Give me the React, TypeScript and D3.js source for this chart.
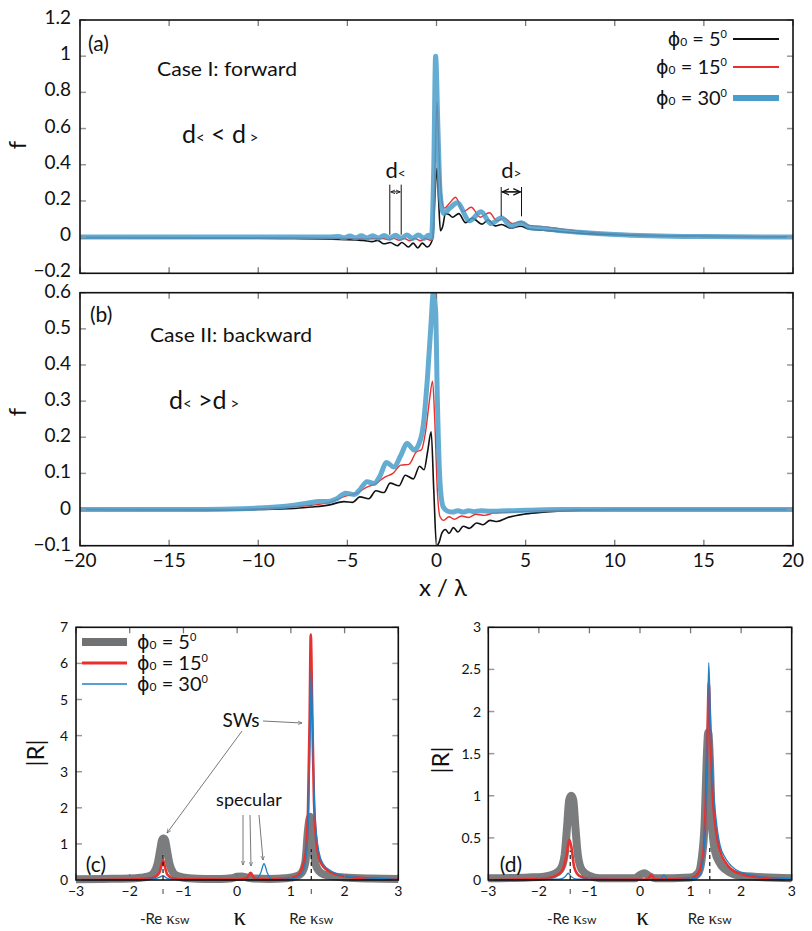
import React from "react";
import * as d3 from "d3";

type Pt = [number, number];

// (a) Case I: forward — f against x/λ
const aPhi5: Pt[] = [
  [-20, -0.003], [-15, -0.004], [-10, -0.006], [-8, -0.008], [-6, -0.011], [-5, -0.014],
  [-4.5, -0.016], [-4.1, -0.018], [-3.6, -0.025], [-3.3, -0.018], [-2.95, -0.037], [-2.6, -0.03],
  [-2.2, -0.048], [-1.94, -0.03], [-1.57, -0.055], [-1.31, -0.033], [-1.05, -0.06], [-0.8, -0.033],
  [-0.52, -0.055], [-0.35, -0.04], [-0.2, 0.0], [-0.1, 0.2], [0.02, 0.38], [0.12, 0.2], [0.22, 0.035],
  [0.35, 0.06], [0.5, 0.13], [0.7, 0.125], [0.9, 0.11], [1.25, 0.13], [1.63, 0.08], [2.0, 0.105],
  [2.56, 0.072], [2.9, 0.095], [3.3, 0.062], [3.65, 0.07], [4.15, 0.05], [4.7, 0.06], [5.2, 0.045],
  [6, 0.038], [7, 0.03], [8, 0.022], [10, 0.013], [12, 0.008], [15, 0.004], [20, 0.001],
];
const aPhi15: Pt[] = [
  [-20, -0.002], [-10, -0.004], [-6, -0.006], [-4, -0.01], [-3, -0.008], [-2.7, -0.014], [-2.4, -0.007],
  [-2.1, -0.017], [-1.8, -0.008], [-1.5, -0.02], [-1.2, -0.008], [-0.9, -0.02], [-0.6, -0.008],
  [-0.35, -0.018], [-0.2, 0.0], [-0.08, 0.4], [0.03, 0.75], [0.15, 0.45], [0.3, 0.2], [0.45, 0.16],
  [0.75, 0.19], [1.07, 0.22], [1.5, 0.14], [1.95, 0.165], [2.45, 0.11], [2.97, 0.135], [3.4, 0.09],
  [3.8, 0.105], [4.25, 0.075], [4.72, 0.085], [5.2, 0.065], [6, 0.058], [7, 0.045], [8, 0.033],
  [10, 0.018], [12, 0.01], [15, 0.005], [20, 0.001],
];
const aPhi30: Pt[] = [
  [-20, 0], [-12, 0], [-8, 0.001], [-6, 0], [-5.5, 0.004], [-5.2, -0.004], [-4.86, 0.006],
  [-4.54, -0.004], [-4.22, 0.007], [-3.9, -0.005], [-3.58, 0.008], [-3.26, -0.005], [-2.94, 0.009],
  [-2.62, -0.006], [-2.3, 0.01], [-1.98, -0.006], [-1.66, 0.011], [-1.34, -0.007], [-1.02, 0.012],
  [-0.7, -0.007], [-0.45, 0.01], [-0.28, -0.005], [-0.15, 0.4], [-0.05, 1.0], [0.08, 0.6],
  [0.2, 0.25], [0.4, 0.13], [0.75, 0.16], [1.16, 0.19], [1.85, 0.09], [2.5, 0.14], [3.05, 0.075],
  [3.65, 0.105], [4.2, 0.06], [4.75, 0.08], [5.3, 0.05], [6, 0.048], [7, 0.035], [8, 0.027],
  [10, 0.015], [12, 0.008], [15, 0.003], [20, 0],
];

// (b) Case II: backward
const bPhi5: Pt[] = [
  [-20, 0], [-12, -0.001], [-10, 0], [-8, 0.003], [-7, 0.007], [-6, 0.013], [-5.2, 0.022],
  [-4.7, 0.02], [-4.3, 0.035], [-3.8, 0.03], [-3.4, 0.052], [-2.95, 0.047], [-2.6, 0.073],
  [-2.1, 0.066], [-1.75, 0.095], [-1.3, 0.085], [-0.95, 0.12], [-0.7, 0.11], [-0.5, 0.16],
  [-0.3, 0.215], [-0.15, 0.05], [0.0, -0.1], [0.15, -0.09], [0.3, -0.065], [0.5, -0.055],
  [0.7, -0.066], [0.95, -0.05], [1.2, -0.062], [1.5, -0.046], [1.85, -0.052], [2.25, -0.037],
  [2.6, -0.042], [3.0, -0.03], [3.4, -0.033], [4, -0.022], [5, -0.012], [6, -0.007], [8, -0.002],
  [10, 0], [20, 0],
];
const bPhi15: Pt[] = [
  [-20, 0], [-12, 0], [-10, 0.002], [-8, 0.008], [-7, 0.012], [-6, 0.02], [-5.1, 0.037],
  [-4.5, 0.045], [-3.9, 0.062], [-3.4, 0.072], [-2.9, 0.09], [-2.45, 0.1], [-2.0, 0.123],
  [-1.55, 0.125], [-1.12, 0.16], [-0.85, 0.165], [-0.6, 0.22], [-0.4, 0.3], [-0.22, 0.355],
  [-0.1, 0.25], [0.05, 0.05], [0.2, -0.02], [0.4, -0.03], [0.7, -0.02], [1.0, -0.027],
  [1.4, -0.018], [1.8, -0.022], [2.2, -0.013], [2.7, -0.016], [3.2, -0.01], [4, -0.008],
  [5, -0.005], [7, -0.002], [10, 0], [20, 0],
];
const bPhi30: Pt[] = [
  [-20, 0], [-14, 0], [-12, 0.001], [-10, 0.004], [-9, 0.007], [-8, 0.012], [-7.2, 0.018],
  [-6.6, 0.022], [-6.1, 0.022], [-5.6, 0.03], [-5.1, 0.045], [-4.6, 0.042], [-4.3, 0.055],
  [-3.9, 0.077], [-3.5, 0.072], [-3.2, 0.09], [-2.8, 0.13], [-2.4, 0.118], [-2.0, 0.15],
  [-1.65, 0.183], [-1.25, 0.165], [-1.0, 0.18], [-0.75, 0.23], [-0.5, 0.37], [-0.3, 0.52],
  [-0.18, 0.6], [-0.05, 0.55], [0.05, 0.3], [0.19, 0.08], [0.37, 0.008], [0.6, -0.004],
  [0.9, -0.007], [1.2, -0.003], [1.5, -0.007], [1.8, -0.003], [2.1, -0.006], [2.5, -0.003],
  [3, -0.005], [4, -0.003], [5, -0.002], [7, 0], [20, 0],
];

// (c) |R| against κ
const cPhi5: Pt[] = [
  [-3, 0.02], [-2.5, 0.03], [-2, 0.04], [-1.8, 0.06], [-1.65, 0.1], [-1.55, 0.2], [-1.48, 0.45],
  [-1.43, 0.85], [-1.4, 1.1], [-1.37, 1.15], [-1.34, 1.1], [-1.31, 0.85], [-1.26, 0.45],
  [-1.19, 0.2], [-1.09, 0.1], [-0.9, 0.05], [-0.6, 0.03], [-0.3, 0.03], [-0.1, 0.05], [0.0, 0.09],
  [0.087, 0.1], [0.18, 0.07], [0.3, 0.04], [0.6, 0.03], [0.9, 0.05], [1.1, 0.1], [1.2, 0.2],
  [1.27, 0.5], [1.32, 1.4], [1.36, 1.75], [1.4, 1.4], [1.45, 0.5], [1.52, 0.25], [1.62, 0.15],
  [1.8, 0.1], [2, 0.07], [2.5, 0.04], [3, 0.03],
];
const cPhi15: Pt[] = [
  [-3, 0.0], [-2, 0.01], [-1.7, 0.03], [-1.55, 0.07], [-1.45, 0.2], [-1.4, 0.45], [-1.38, 0.55],
  [-1.35, 0.4], [-1.3, 0.15], [-1.2, 0.05], [-1.0, 0.02], [0, 0.01], [0.18, 0.05], [0.25, 0.2],
  [0.32, 0.05], [0.5, 0.01], [0.9, 0.03], [1.1, 0.1], [1.2, 0.3], [1.28, 0.8], [1.32, 2.0],
  [1.35, 4.5], [1.37, 6.8], [1.4, 4.5], [1.43, 2.2], [1.48, 1.0], [1.55, 0.5], [1.7, 0.25],
  [2, 0.1], [2.5, 0.04], [3, 0.02],
];
const cPhi30: Pt[] = [
  [-3, 0], [-1.8, 0.01], [-1.55, 0.03], [-1.45, 0.07], [-1.38, 0.12], [-1.32, 0.06], [-1.2, 0.02],
  [-1, 0.01], [0.35, 0.01], [0.44, 0.2], [0.5, 0.45], [0.56, 0.2], [0.65, 0.01], [1.0, 0.03],
  [1.2, 0.15], [1.28, 0.6], [1.33, 1.8], [1.36, 4], [1.38, 5.9], [1.41, 3.8], [1.45, 1.8],
  [1.52, 0.8], [1.6, 0.45], [1.75, 0.25], [2, 0.12], [2.5, 0.05], [3, 0.02],
];

// (d) |R| against κ
const dPhi5: Pt[] = [
  [-3, 0.02], [-2.2, 0.03], [-1.9, 0.04], [-1.7, 0.07], [-1.57, 0.13], [-1.49, 0.3], [-1.44, 0.65],
  [-1.4, 0.95], [-1.36, 1.0], [-1.32, 0.95], [-1.28, 0.65], [-1.23, 0.3], [-1.15, 0.12], [-1.0, 0.05],
  [-0.8, 0.02], [-0.1, 0.02], [0.0, 0.06], [0.087, 0.08], [0.17, 0.05], [0.3, 0.02], [1.0, 0.03],
  [1.15, 0.08], [1.22, 0.25], [1.28, 0.7], [1.32, 1.45], [1.35, 1.75], [1.38, 1.45], [1.42, 0.7],
  [1.48, 0.35], [1.58, 0.2], [1.75, 0.1], [2, 0.05], [3, 0.02],
];
const dPhi15: Pt[] = [
  [-3, 0], [-2, 0.01], [-1.7, 0.04], [-1.55, 0.1], [-1.45, 0.3], [-1.4, 0.48], [-1.36, 0.4],
  [-1.3, 0.15], [-1.2, 0.05], [-1, 0.015], [0.15, 0.005], [0.22, 0.06], [0.3, 0.005], [1.0, 0.02],
  [1.15, 0.08], [1.25, 0.3], [1.3, 0.9], [1.34, 1.9], [1.36, 2.35], [1.39, 1.8], [1.43, 1.1],
  [1.5, 0.6], [1.58, 0.35], [1.7, 0.2], [1.8, 0.13], [2, 0.07], [2.3, 0.035], [2.6, 0.02], [3, 0.01],
];
const dPhi30: Pt[] = [
  [-3, 0], [-1.6, 0.01], [-1.48, 0.04], [-1.42, 0.08], [-1.36, 0.04], [-1.25, 0.01], [0.4, 0.005],
  [0.47, 0.06], [0.55, 0.005], [1.1, 0.02], [1.2, 0.08], [1.26, 0.3], [1.31, 1.0], [1.34, 2.0],
  [1.36, 2.58], [1.39, 2.0], [1.43, 1.3], [1.5, 0.75], [1.58, 0.42], [1.7, 0.25], [1.8, 0.17],
  [2, 0.09], [2.2, 0.06], [2.5, 0.03], [3, 0.015],
];

const angles = ["5", "15", "30"];
const topXTicks = [-20, -15, -10, -5, 0, 5, 10, 15, 20];
const aYTicks = [-0.2, 0, 0.2, 0.4, 0.6, 0.8, 1, 1.2];
const bYTicks = [-0.1, 0, 0.1, 0.2, 0.3, 0.4, 0.5, 0.6];
const kTicks = [-3, -2, -1, 0, 1, 2, 3];
const cYTicks = [0, 1, 2, 3, 4, 5, 6, 7];
const dYTicks = [0, 0.5, 1, 1.5, 2, 2.5, 3];
const reKsw = 1.38;

const FONT = "Lato, 'Open Sans', sans-serif";
const BLACK = "#111";
const RED = "#e8302c";
const BLUE_TOP = "#4a9ecb";
const BLUE_LOW = "#1f80c4";
const GRAY = "#707173";

const fmt = (v: number) => String(+v.toFixed(2)).replace("-", "\u2212");

const topX = d3.scaleLinear().domain([-20, 20]).range([80, 793]);
const aY = d3.scaleLinear().domain([-0.2, 1.2]).range([273.3, 20]);
const bY = d3.scaleLinear().domain([-0.1, 0.6]).range([545.7, 292.7]);
const cX = d3.scaleLinear().domain([-3, 3]).range([76, 398.3]);
const cY = d3.scaleLinear().domain([0, 7]).range([880, 627.3]);
const dX = d3.scaleLinear().domain([-3, 3]).range([488.3, 791.7]);
const dY = d3.scaleLinear().domain([0, 3]).range([880, 627.3]);

type Sc = d3.ScaleLinear<number, number>;

const pathOf = (x: Sc, y: Sc, data: Pt[]) =>
  d3.line<Pt>().x(d => x(d[0])).y(d => y(d[1])).curve(d3.curveMonotoneX)(data) || "";

const Frame = ({ x, y, xt, yt, len, xLabels, yLabelX, fs, dyLab }:
  { x: Sc; y: Sc; xt: number[]; yt: number[]; len: number; xLabels: boolean; yLabelX: number; fs: number; dyLab: number }) => {
  const [x0, x1] = x.range();
  const [y0, y1] = y.range();
  return (
    <g>
      {yt.map(v => (
        <g key={"y" + v}>
          <line x1={x0} x2={x0 + len} y1={y(v)} y2={y(v)} stroke="#999" strokeWidth={1.5} />
          <line x1={x1} x2={x1 - len} y1={y(v)} y2={y(v)} stroke="#999" strokeWidth={1.5} />
          <text x={yLabelX} y={y(v) + dyLab} textAnchor="end" fontSize={fs} fontFamily={FONT} fill="#111">{fmt(v)}</text>
        </g>
      ))}
      {xt.map(v => (
        <g key={"x" + v}>
          <line x1={x(v)} x2={x(v)} y1={y0} y2={y0 - len} stroke="#777" strokeWidth={1.3} />
          <line x1={x(v)} x2={x(v)} y1={y1} y2={y1 + len} stroke="#777" strokeWidth={1.3} />
          {xLabels && (
            <text x={x(v)} y={y0 + fs + 2} textAnchor="middle" fontSize={fs} fontFamily={FONT} fill="#111">{fmt(v)}</text>
          )}
        </g>
      ))}
      <rect x={x0} y={y1} width={x1 - x0} height={y0 - y1} fill="none" stroke="#111" strokeWidth={1.6} />
    </g>
  );
};

const PhiText = ({ x, y, deg, fs, anchor }: { x: number; y: number; deg: string; fs: number; anchor: "start" | "end" }) => (
  <text x={x} y={y} textAnchor={anchor} fontSize={fs} fontFamily={FONT} fill="#111">
    <tspan fontFamily="'DejaVu Sans', sans-serif" fontSize={fs * 0.95}>ϕ</tspan>
    <tspan fontSize={fs * 0.6}>0</tspan>
    <tspan>{" = " + deg}</tspan>
    <tspan fontSize={fs * 0.55} dy={-fs * 0.4}>0</tspan>
  </text>
);

const DLabel = ({ x, y, sub, fs }: { x: number; y: number; sub: string; fs: number }) => (
  <text x={x} y={y} textAnchor="middle" fontSize={fs} fontFamily={FONT} fill="#111">
    d<tspan fontSize={fs * 0.62}>{sub}</tspan>
  </text>
);

const Ksw = ({ x, y, neg }: { x: number; y: number; neg: boolean }) => (
  <text x={x} y={y} textAnchor="middle" fontSize={15} fontFamily={FONT} fill="#222">
    {neg ? "-Re " : "Re "}
    <tspan fontFamily="'Liberation Serif', serif" fontSize={17}>κ</tspan>
    <tspan fontSize={12}>sw</tspan>
  </text>
);

export default function App() {
  const topSeries = (y: Sc, s: Pt[][]) => (
    <>
      <path d={pathOf(topX, y, s[0])} fill="none" stroke={BLACK} strokeWidth={1.6} strokeLinejoin="round" />
      <path d={pathOf(topX, y, s[1])} fill="none" stroke={RED} strokeWidth={1.4} strokeLinejoin="round" />
      <path d={pathOf(topX, y, s[2])} fill="none" stroke={BLUE_TOP} strokeWidth={5} strokeOpacity={0.85} strokeLinejoin="round" />
    </>
  );
  const lowSeries = (x: Sc, y: Sc, s: Pt[][]) => (
    <>
      <path d={pathOf(x, y, s[0])} fill="none" stroke={GRAY} strokeWidth={8} strokeOpacity={0.92} strokeLinejoin="bevel" />
      <path d={pathOf(x, y, s[1])} fill="none" stroke={RED} strokeWidth={2.6} strokeLinejoin="round" />
      <path d={pathOf(x, y, s[2])} fill="none" stroke={BLUE_LOW} strokeWidth={1.3} strokeLinejoin="round" />
    </>
  );
  const kswMarks = (x: Sc, y: Sc, hl: number, hr: number) => (
    <>
      <line x1={x(-reKsw)} x2={x(-reKsw)} y1={y(0)} y2={y(hl)} stroke="#111" strokeWidth={1.2} strokeDasharray="4,3" />
      <line x1={x(reKsw)} x2={x(reKsw)} y1={y(0)} y2={y(hr)} stroke="#111" strokeWidth={1.2} strokeDasharray="4,3" />
      <line x1={x(-reKsw)} x2={x(-reKsw)} y1={889} y2={894} stroke="#444" strokeWidth={1} />
      <line x1={x(reKsw)} x2={x(reKsw)} y1={889} y2={894} stroke="#444" strokeWidth={1} />
    </>
  );
  const legendTop = [
    { c: BLACK, w: 2, yy: 39 },
    { c: RED, w: 2, yy: 67 },
    { c: BLUE_TOP, w: 6, yy: 98 },
  ];
  const legendLow = [
    { c: GRAY, w: 8, yy: 642 },
    { c: RED, w: 3, yy: 663 },
    { c: BLUE_LOW, w: 1.4, yy: 684 },
  ];

  return (
    <svg width={812} height={931} style={{ position: "absolute", left: 0, top: 0, background: "#fff" }}>
      <defs>
        <clipPath id="clipA"><rect x={80} y={20} width={713} height={253.3} /></clipPath>
        <clipPath id="clipB"><rect x={80} y={292.7} width={713} height={253} /></clipPath>
        <marker id="arr" viewBox="0 0 10 10" refX={9} refY={5} markerWidth={5} markerHeight={5} orient="auto-start-reverse">
          <path d="M0,1 L9,5 L0,9" fill="none" stroke="#111" strokeWidth={1.6} />
        </marker>
        <marker id="arrG" viewBox="0 0 10 10" refX={9} refY={5} markerWidth={6} markerHeight={6} orient="auto">
          <path d="M0,1 L9,5 L0,9" fill="none" stroke="#555" strokeWidth={1.2} />
        </marker>
      </defs>

      {/* (a) */}
      <g clipPath="url(#clipA)">{topSeries(aY, [aPhi5, aPhi15, aPhi30])}</g>
      <Frame x={topX} y={aY} xt={topXTicks} yt={aYTicks} len={6} xLabels={false} yLabelX={71} fs={19} dyLab={4} />
      <text x={88} y={51} fontSize={21} fontFamily={FONT} fill="#111">(a)</text>
      <text x={157} y={76} fontSize={19} fontFamily={FONT} fill="#111" textLength={140} lengthAdjust="spacingAndGlyphs">Case I: forward</text>
      <text x={182} y={143} fontSize={25} fontFamily={FONT} fill="#111">
        d<tspan fontSize={15}>{"<"}</tspan><tspan>{" < d"}</tspan><tspan fontSize={15}>{" >"}</tspan>
      </text>
      <text x={26} y={145} fontSize={24} fontFamily={FONT} fill="#111" textAnchor="middle" transform="rotate(-90 26 145)">f</text>
      {legendTop.map((l, i) => (
        <g key={i}>
          <PhiText x={727} y={l.yy + 7} deg={angles[i]} fs={20} anchor="end" />
          <line x1={733} x2={779} y1={l.yy} y2={l.yy} stroke={l.c} strokeWidth={l.w} />
        </g>
      ))}
      {/* d< and d> brackets */}
      <g stroke="#111" strokeWidth={1}>
        <line x1={topX(-2.62)} x2={topX(-2.62)} y1={aY(0.29)} y2={aY(0.013)} />
        <line x1={topX(-1.98)} x2={topX(-1.98)} y1={aY(0.29)} y2={aY(0.013)} />
        <line x1={topX(-2.62) + 1} x2={topX(-1.98) - 1} y1={aY(0.25)} y2={aY(0.25)} markerStart="url(#arr)" markerEnd="url(#arr)" />
        <line x1={topX(3.63)} x2={topX(3.63)} y1={aY(0.277)} y2={aY(0.115)} />
        <line x1={topX(4.77)} x2={topX(4.77)} y1={aY(0.277)} y2={aY(0.115)} />
        <line x1={topX(3.63) + 1} x2={topX(4.77) - 1} y1={aY(0.25)} y2={aY(0.25)} strokeWidth={1.6} markerStart="url(#arr)" markerEnd="url(#arr)" />
      </g>
      <DLabel x={topX(-2.3)} y={aY(0.364) + 7} sub="<" fs={22} />
      <DLabel x={topX(4.2)} y={aY(0.364) + 7} sub=">" fs={22} />

      {/* (b) */}
      <g clipPath="url(#clipB)">{topSeries(bY, [bPhi5, bPhi15, bPhi30])}</g>
      <Frame x={topX} y={bY} xt={topXTicks} yt={bYTicks} len={6} xLabels={true} yLabelX={71} fs={19} dyLab={5} />
      <text x={90} y={322} fontSize={21} fontFamily={FONT} fill="#111">(b)</text>
      <text x={150} y={342} fontSize={19} fontFamily={FONT} fill="#111" textLength={162} lengthAdjust="spacingAndGlyphs">Case II: backward</text>
      <text x={169} y={409} fontSize={25} fontFamily={FONT} fill="#111">
        d<tspan fontSize={15}>{"<"}</tspan><tspan>{" >d"}</tspan><tspan fontSize={15}>{" >"}</tspan>
      </text>
      <text x={26} y={412} fontSize={24} fontFamily={FONT} fill="#111" textAnchor="middle" transform="rotate(-90 26 412)">f</text>
      <text x={443} y={596} fontSize={24} fontFamily={FONT} fill="#111" textAnchor="middle">x / λ</text>

      {/* (c) */}
      {lowSeries(cX, cY, [cPhi5, cPhi15, cPhi30])}
      {kswMarks(cX, cY, 0.75, 0.85)}
      <Frame x={cX} y={cY} xt={kTicks} yt={cYTicks} len={6} xLabels={true} yLabelX={68} fs={14} dyLab={5} />
      <text x={38} y={753} fontSize={24} fontFamily={FONT} fill="#111" textAnchor="middle" dominantBaseline="middle" transform="rotate(-90 38 753)">|R|</text>
      {legendLow.map((l, i) => (
        <g key={i}>
          <line x1={82} x2={127} y1={l.yy} y2={l.yy} stroke={l.c} strokeWidth={l.w} />
          <PhiText x={137} y={l.yy + 7} deg={angles[i]} fs={20} anchor="start" />
        </g>
      ))}
      <text x={96} y={872} fontSize={21} fontFamily={FONT} fill="#111" textAnchor="middle">(c)</text>
      <text x={241} y={727} fontSize={19} fontFamily={FONT} fill="#111" textAnchor="middle">SWs</text>
      <g stroke="#555" strokeWidth={0.8} fill="none">
        <line x1={263} y1={721} x2={302} y2={723} markerEnd="url(#arrG)" />
        <line x1={242} y1={731} x2={167} y2={833} markerEnd="url(#arrG)" />
        <line x1={243} y1={815} x2={243} y2={865} markerEnd="url(#arrG)" />
        <line x1={250} y1={815} x2={251} y2={866} markerEnd="url(#arrG)" />
        <line x1={259} y1={815} x2={263} y2={860} markerEnd="url(#arrG)" />
      </g>
      <text x={249} y={806} fontSize={18} fontFamily={FONT} fill="#111" textAnchor="middle">specular</text>
      <Ksw x={cX(-1.35)} y={924} neg={true} />
      <Ksw x={cX(1.38)} y={924} neg={false} />
      <text x={cX(0.05)} y={925} fontSize={25} fontFamily="'Liberation Serif', serif" fill="#111" textAnchor="middle">κ</text>

      {/* (d) */}
      {lowSeries(dX, dY, [dPhi5, dPhi15, dPhi30])}
      {kswMarks(dX, dY, 0.35, 0.4)}
      <Frame x={dX} y={dY} xt={kTicks} yt={dYTicks} len={6} xLabels={true} yLabelX={481} fs={14} dyLab={5} />
      <text x={443} y={760} fontSize={24} fontFamily={FONT} fill="#111" textAnchor="middle" dominantBaseline="middle" transform="rotate(-90 443 760)">|R|</text>
      <text x={511} y={872} fontSize={21} fontFamily={FONT} fill="#111" textAnchor="middle">(d)</text>
      <Ksw x={dX(-1.35)} y={924} neg={true} />
      <Ksw x={dX(1.38)} y={924} neg={false} />
      <text x={dX(0.05)} y={925} fontSize={25} fontFamily="'Liberation Serif', serif" fill="#111" textAnchor="middle">κ</text>
    </svg>
  );
}
